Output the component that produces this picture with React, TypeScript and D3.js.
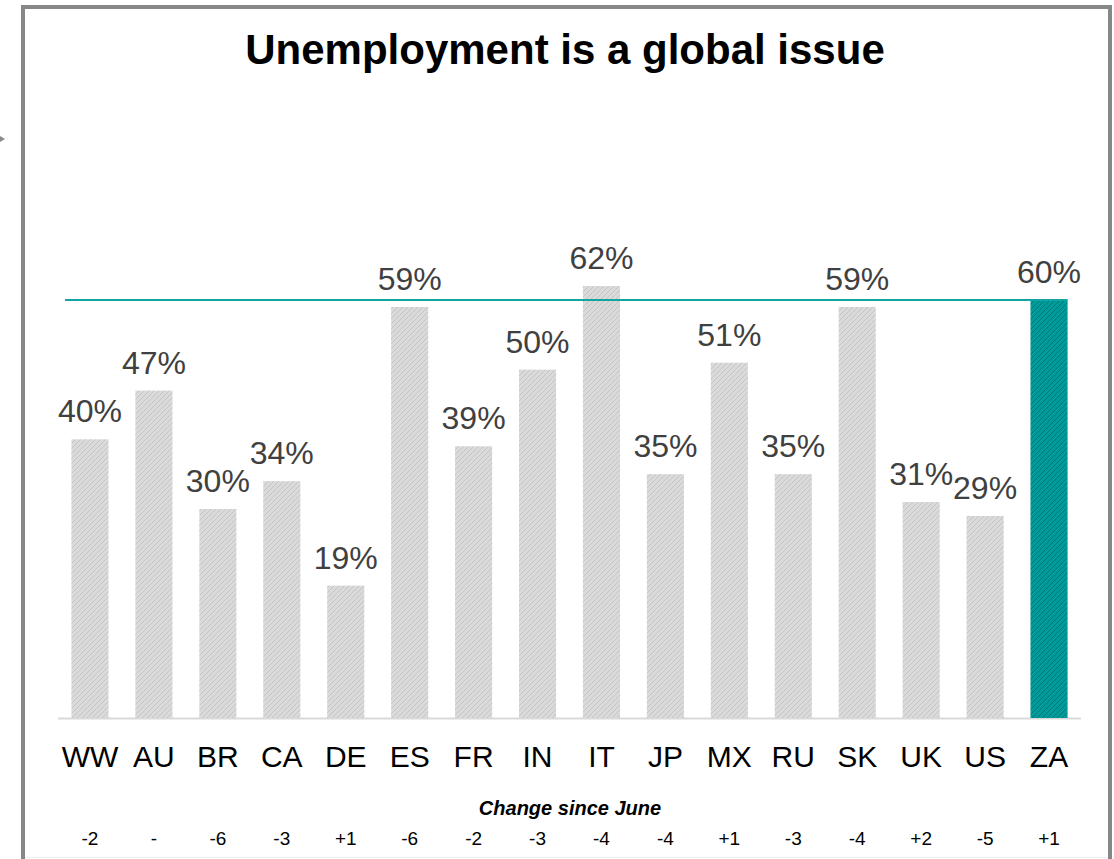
import React from "react";
import * as d3 from "d3";

const categories = ["WW", "AU", "BR", "CA", "DE", "ES", "FR", "IN", "IT", "JP", "MX", "RU", "SK", "UK", "US", "ZA"];
const values = [40, 47, 30, 34, 19, 59, 39, 50, 62, 35, 51, 35, 59, 31, 29, 60];
const changes = ["-2", "-", "-6", "-3", "+1", "-6", "-2", "-3", "-4", "-4", "+1", "-3", "-4", "+2", "-5", "+1"];
const highlight = "ZA";
const referenceValue = 60;
const title = "Unemployment is a global issue";
const changeTitle = "Change since June";

const W = 1114;
const H = 859;
const FONT = "'Liberation Sans', Arial, sans-serif";

export default function App() {
  const x = d3.scaleBand<string>().domain(categories).range([58, 1081]).paddingInner(0.42).paddingOuter(0.21);
  const y = d3.scaleLinear().domain([0, 60]).range([718, 300]);
  const bw = x.bandwidth();
  const hl = x(highlight)!;

  return (
    <svg width={W} height={H} style={{ position: "absolute", left: 0, top: 0 }}>
      <defs>
        <pattern id="hatchGray" patternUnits="userSpaceOnUse" width="5" height="5">
          <rect width="5" height="5" fill="#dadada" />
          <path d="M-1,1 l2,-2 M0,5 l5,-5 M4,6 l2,-2" stroke="#c4c4c4" strokeWidth="1" />
        </pattern>
        <pattern id="hatchTeal" patternUnits="userSpaceOnUse" width="5" height="5">
          <rect width="5" height="5" fill="#009c9c" />
          <path d="M-1,1 l2,-2 M0,5 l5,-5 M4,6 l2,-2" stroke="#007878" strokeWidth="1" />
        </pattern>
      </defs>
      <rect x={0} y={0} width={W} height={H} fill="#fff" />
      {/* frame */}
      <rect x={23} y={7} width={1087} height={870} fill="none" stroke="#878787" strokeWidth={4} />
      <line x1={25} x2={1108} y1={857.5} y2={857.5} stroke="#eeeeee" strokeWidth={1} />
      {/* small arrow */}
      <path d="M0,136 L5,139 L0,142 Z" fill="#8a8a8a" />
      <text x={565} y={64} textAnchor="middle" fontFamily={FONT} fontWeight="bold" fontSize={42} fill="#000">{title}</text>

      {/* axis baseline */}
      <line x1={58} x2={1081} y1={718.5} y2={718.5} stroke="#d9d9d9" strokeWidth={2} />

      {categories.map((c, i) => {
        const v = values[i];
        const bx = x(c)!;
        const isHl = c === highlight;
        return (
          <g key={c}>
            <rect x={bx} y={y(v)} width={bw} height={y(0) - y(v)} fill={isHl ? "url(#hatchTeal)" : "url(#hatchGray)"} />
            <text x={bx + bw / 2} y={y(v) - 17} textAnchor="middle" fontFamily={FONT} fontSize={32} fill="#404040">{v}%</text>
            <text x={bx + bw / 2} y={767} textAnchor="middle" fontFamily={FONT} fontSize={30} fill="#000">{c}</text>
            <text x={bx + bw / 2} y={845} textAnchor="middle" fontFamily={FONT} fontSize={19} fill="#000">{changes[i]}</text>
          </g>
        );
      })}

      {/* reference line */}
      <line x1={65} x2={hl + bw} y1={y(referenceValue)} y2={y(referenceValue)} stroke="#13a3a3" strokeWidth={2} />

      <text x={570} y={815} textAnchor="middle" fontFamily={FONT} fontWeight="bold" fontStyle="italic" fontSize={20} fill="#000">{changeTitle}</text>
    </svg>
  );
}
